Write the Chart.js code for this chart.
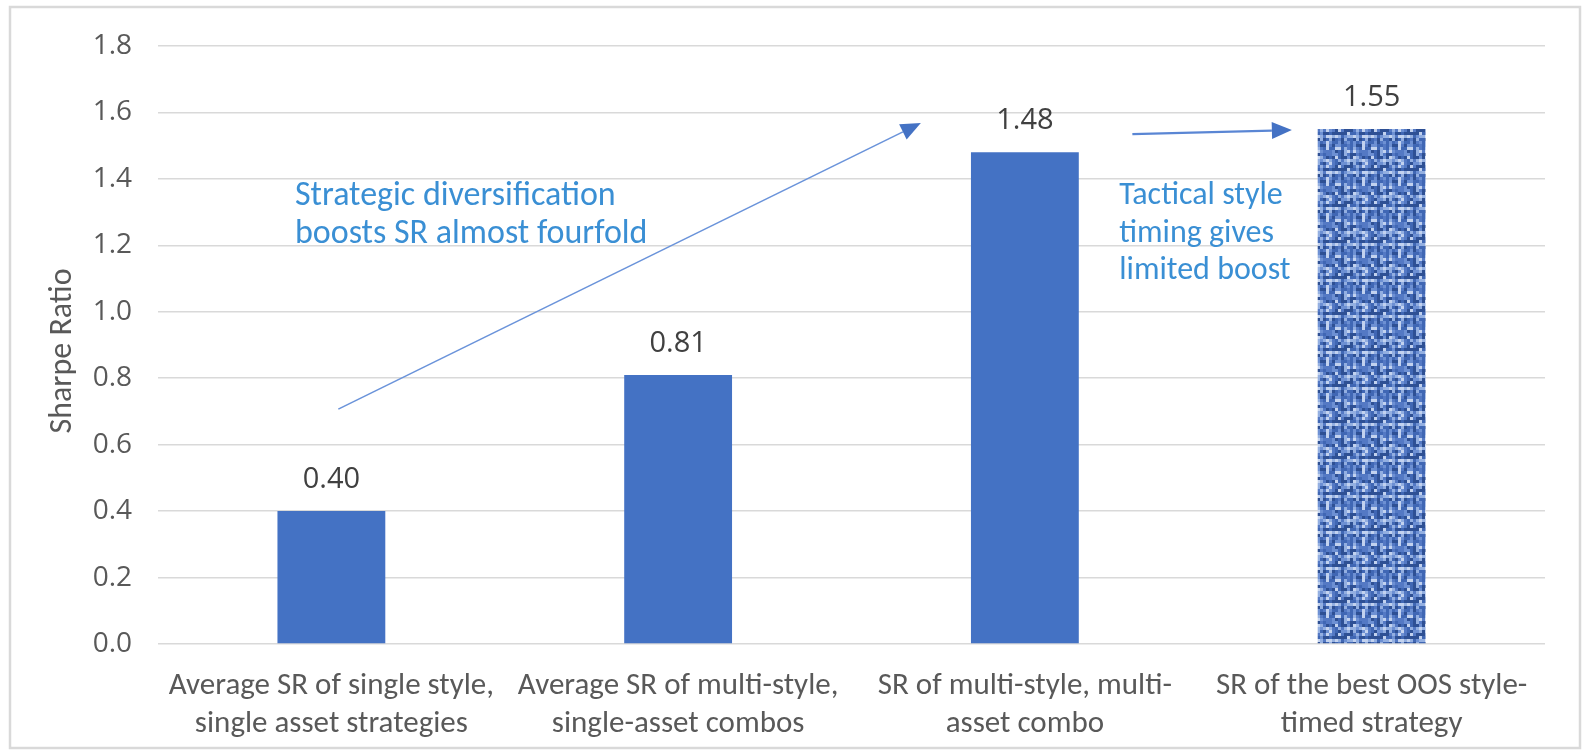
<!DOCTYPE html>
<html>
<head>
<meta charset="utf-8">
<script src="https://cdn.jsdelivr.net/npm/chart.js@4.4.1/dist/chart.umd.min.js"></script>
<style>
  html, body { margin: 0; padding: 0; background: #ffffff; }
  canvas { display: block; }
</style>
</head>
<body>
<canvas id="chart" width="1582" height="751"></canvas>
<script>
// Category labels (two lines each)
const categories = [
  ["Average SR of single style,", "single asset strategies"],
  ["Average SR of multi-style,", "single-asset combos"],
  ["SR of multi-style, multi-", "asset combo"],
  ["SR of the best OOS style-", "timed strategy"]
];

// Sharpe ratio per category
const sharpeRatios = [0.40, 0.81, 1.48, 1.55];

// Value axis
const yTickValues = [0.0, 0.2, 0.4, 0.6, 0.8, 1.0, 1.2, 1.4, 1.6, 1.8];
const yAxisTitle = "Sharpe Ratio";

// Callout texts
const noteDiversification = ["Strategic diversification", "boosts SR almost fourfold"];
const noteTiming = ["Tactical style", "timing gives", "limited boost"];

// Arrow end points in (category index, value) space
const arrowDiversification = { from: [0.02, 0.707], to: [1.70, 1.568] };
const arrowTiming = { from: [2.31, 1.535], to: [2.77, 1.547] };

// Callout anchors in (category index, value) space: left edge, first baseline
const noteDiversificationAt = [-0.105, 1.3215];
const noteTimingAt = [2.272, 1.324];

const TEXT_FONT = 'Carlito, Calibri, Lato, "Liberation Sans", sans-serif';
const NUM_FONT = '"Segoe UI", "Open Sans", "Noto Sans", sans-serif';
const BAR_BLUE = '#4472C4';
const TEXT_GREY = '#595959';
const NOTE_BLUE = '#3A8FD4';

const canvas = document.getElementById('chart');
const ctx0 = canvas.getContext('2d');

// Woven-fabric texture for the style-timed strategy bar
function wovenTexture() {
  const tile = 36;
  const cell = 3;
  const palette = ['#2E5094', '#4067B4', '#5479C4', '#6D90D3', '#93AFE1', '#C2D2EF'];

  // one crisp tile of thread cells
  const raw = document.createElement('canvas');
  raw.width = tile; raw.height = tile;
  const g = raw.getContext('2d');
  for (let y = 0; y < tile; y += cell) {
    for (let x = 0; x < tile; x += cell) {
      let h = Math.sin(x * 12.9898 + y * 78.233) * 43758.5453;
      h = h - Math.floor(h);
      let k = Math.floor(h * palette.length);
      if ((x / cell) % 3 === 0) k = Math.max(0, k - 2);
      if ((y / cell) % 4 === 1) k = Math.min(palette.length - 1, k + 1);
      g.fillStyle = palette[k];
      g.fillRect(x, y, cell, cell);
    }
  }

  // soften it: blur a 3x3 mosaic and keep the seamless centre tile
  const big = document.createElement('canvas');
  big.width = tile * 3; big.height = tile * 3;
  const bg = big.getContext('2d');
  bg.filter = 'blur(0.7px)';
  for (let j = 0; j < 3; j++) {
    for (let i = 0; i < 3; i++) bg.drawImage(raw, i * tile, j * tile);
  }
  const out = document.createElement('canvas');
  out.width = tile; out.height = tile;
  out.getContext('2d').drawImage(big, tile, tile, tile, tile, 0, 0, tile, tile);
  return ctx0.createPattern(out, 'repeat');
}

const barFills = [BAR_BLUE, BAR_BLUE, BAR_BLUE, wovenTexture()];

function catX(chart, idx) {
  const xs = chart.scales.x;
  const p0 = xs.getPixelForValue(0);
  const p1 = xs.getPixelForValue(1);
  return p0 + idx * (p1 - p0);
}
function valY(chart, v) {
  return chart.scales.y.getPixelForValue(v);
}

function drawArrow(ctx, x1, y1, x2, y2, lineColor, lineWidth, headColor) {
  const ang = Math.atan2(y2 - y1, x2 - x1);
  const headLen = 20, headHalf = 8.5;
  const bx = x2 - headLen * Math.cos(ang);
  const by = y2 - headLen * Math.sin(ang);
  ctx.save();
  ctx.strokeStyle = lineColor;
  ctx.lineWidth = lineWidth;
  ctx.beginPath();
  ctx.moveTo(x1, y1);
  ctx.lineTo(bx, by);
  ctx.stroke();
  ctx.fillStyle = headColor;
  ctx.beginPath();
  ctx.moveTo(x2, y2);
  ctx.lineTo(bx + headHalf * Math.sin(ang), by - headHalf * Math.cos(ang));
  ctx.lineTo(bx - headHalf * Math.sin(ang), by + headHalf * Math.cos(ang));
  ctx.closePath();
  ctx.fill();
  ctx.restore();
}

const decorations = {
  id: 'decorations',
  beforeDraw(chart) {
    const ctx = chart.ctx;
    ctx.save();
    ctx.fillStyle = '#ffffff';
    ctx.fillRect(0, 0, chart.width, chart.height);
    ctx.strokeStyle = '#D9D9D9';
    ctx.lineWidth = 2.5;
    ctx.strokeRect(10, 7, 1570, 741);
    ctx.restore();
  },
  afterDatasetsDraw(chart) {
    const ctx = chart.ctx;
    const meta = chart.getDatasetMeta(0);

    // value labels above bars
    ctx.save();
    ctx.font = '29px ' + NUM_FONT;
    ctx.fillStyle = '#404040';
    ctx.textAlign = 'center';
    ctx.textBaseline = 'alphabetic';
    meta.data.forEach((bar, i) => {
      ctx.fillText(sharpeRatios[i].toFixed(2), bar.x, bar.y - 23);
    });
    ctx.restore();

    // y axis title
    ctx.save();
    ctx.font = '32px ' + TEXT_FONT;
    ctx.fillStyle = TEXT_GREY;
    ctx.textAlign = 'center';
    ctx.textBaseline = 'middle';
    ctx.translate(63, (chart.chartArea.top + chart.chartArea.bottom) / 2 + 6);
    ctx.rotate(-Math.PI / 2);
    ctx.fillText(yAxisTitle, 0, 0);
    ctx.restore();

    // arrows
    drawArrow(ctx,
      catX(chart, arrowDiversification.from[0]), valY(chart, arrowDiversification.from[1]),
      catX(chart, arrowDiversification.to[0]), valY(chart, arrowDiversification.to[1]),
      '#6A93DA', 1.6, BAR_BLUE);
    drawArrow(ctx,
      catX(chart, arrowTiming.from[0]), valY(chart, arrowTiming.from[1]),
      catX(chart, arrowTiming.to[0]), valY(chart, arrowTiming.to[1]),
      '#5A86D4', 2.2, BAR_BLUE);

    // callout texts
    ctx.save();
    ctx.fillStyle = NOTE_BLUE;
    ctx.textAlign = 'left';
    ctx.textBaseline = 'alphabetic';
    ctx.font = '34px ' + TEXT_FONT;
    let x = catX(chart, noteDiversificationAt[0]);
    let y = valY(chart, noteDiversificationAt[1]);
    noteDiversification.forEach((t, i) => ctx.fillText(t, x, y + i * 38));
    ctx.font = '32px ' + TEXT_FONT;
    x = catX(chart, noteTimingAt[0]);
    y = valY(chart, noteTimingAt[1]);
    noteTiming.forEach((t, i) => ctx.fillText(t, x, y + i * 37.5));
    ctx.restore();
  }
};

new Chart(canvas, {
  type: 'bar',
  data: {
    labels: categories,
    datasets: [{
      data: sharpeRatios,
      backgroundColor: barFills,
      borderWidth: 0,
      categoryPercentage: 1.0,
      barPercentage: 0.311
    }]
  },
  options: {
    responsive: false,
    animation: false,
    devicePixelRatio: 1,
    layout: { padding: { left: 0, top: 46, right: 37, bottom: 0 } },
    plugins: {
      legend: { display: false },
      tooltip: { enabled: false },
      title: { display: false }
    },
    scales: {
      x: {
        grid: { display: false, drawTicks: false },
        border: { display: false },
        ticks: {
          color: TEXT_GREY,
          font: { family: TEXT_FONT, size: 31, lineHeight: 1.24 },
          padding: 23,
          maxRotation: 0,
          autoSkip: false
        },
        afterFit(scale) { scale.height = 107; }
      },
      y: {
        min: 0,
        max: 1.8,
        afterBuildTicks(scale) {
          scale.ticks = yTickValues.map(v => ({ value: v }));
        },
        ticks: {
          color: TEXT_GREY,
          font: { family: NUM_FONT, size: 28 },
          padding: 26,
          callback: v => Number(v).toFixed(1)
        },
        grid: { color: '#D9D9D9', lineWidth: 1.6, drawTicks: false },
        border: { display: false },
        afterFit(scale) { scale.width = 158; }
      }
    }
  },
  plugins: [decorations]
});
</script>
</body>
</html>
